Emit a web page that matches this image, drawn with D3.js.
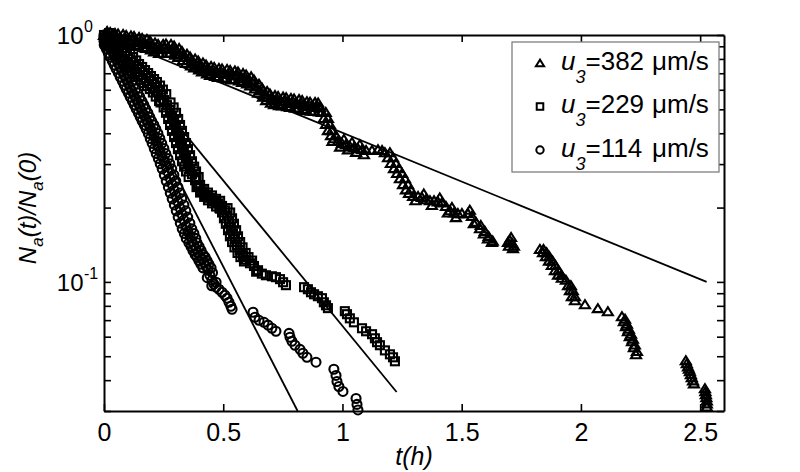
<!DOCTYPE html>
<html><head><meta charset="utf-8">
<script src="https://cdn.jsdelivr.net/npm/d3@7"></script>
<style>body{margin:0;background:#fff}svg{display:block}text{font-family:"Liberation Sans",Arial,sans-serif;fill:#000}</style>
</head><body><svg id="c" width="800" height="472"></svg>
<script>
// ---- data (t in hours, Na(t)/Na(0)) ----
const tri382 = [[0,1],[0.017,0.991],[0.034,0.982],[0.050,0.972],[0.067,0.972],[0.084,0.963],[0.101,0.954],[0.117,0.954],[0.134,0.945],[0.151,0.937],[0.168,0.928],[0.184,0.920],[0.201,0.902],[0.218,0.886],[0.235,0.877],[0.252,0.886],[0.268,0.886],[0.285,0.877],[0.302,0.861],[0.319,0.837],[0.335,0.814],[0.352,0.792],[0.369,0.777],[0.386,0.763],[0.403,0.749],[0.419,0.735],[0.436,0.721],[0.453,0.715],[0.470,0.708],[0.486,0.702],[0.503,0.702],[0.520,0.695],[0.537,0.688],[0.553,0.688],[0.570,0.676],[0.587,0.669],[0.604,0.657],[0.621,0.645],[0.637,0.621],[0.654,0.598],[0.671,0.576],[0.688,0.560],[0.704,0.550],[0.721,0.545],[0.738,0.540],[0.755,0.540],[0.772,0.535],[0.788,0.530],[0.805,0.530],[0.822,0.525],[0.839,0.520],[0.855,0.515],[0.872,0.515],[0.889,0.511],[0.906,0.511],[0.914,0.488],[0.922,0.461],[0.931,0.436],[0.939,0.412],[0.952,0.393],[0.964,0.382],[0.981,0.372],[0.998,0.365],[1.015,0.362],[1.031,0.355],[1.048,0.352],[1.065,0.348],[1.082,0.345],[1.099,0.342],[1.124,0.342],[1.149,0.345],[1.166,0.342],[1.178,0.335],[1.191,0.320],[1.203,0.303],[1.216,0.289],[1.229,0.276],[1.241,0.263],[1.254,0.249],[1.266,0.237],[1.279,0.229],[1.296,0.223],[1.317,0.223],[1.333,0.221],[1.350,0.216],[1.367,0.214],[1.384,0.214],[1.400,0.212],[1.417,0.210],[1.434,0.203],[1.451,0.195],[1.468,0.191],[1.484,0.190],[1.501,0.190],[1.526,0.190],[1.543,0.185],[1.560,0.175],[1.577,0.165],[1.593,0.157],[1.610,0.150],[1.627,0.145],[1.694,0.145],[1.702,0.148],[1.711,0.144],[1.719,0.140],[1.828,0.136],[1.841,0.132],[1.853,0.127],[1.866,0.122],[1.878,0.117],[1.891,0.1115],[1.904,0.107],[1.920,0.104],[1.937,0.102],[1.946,0.097],[1.954,0.0925],[1.962,0.0875],[1.975,0.0843],[2.017,0.0812],[2.071,0.0783],[2.113,0.0761],[2.172,0.0726],[2.180,0.0693],[2.189,0.0662],[2.197,0.0631],[2.205,0.0603],[2.214,0.0575],[2.222,0.0544],[2.231,0.0509],[2.440,0.0482],[2.449,0.0455],[2.457,0.0435],[2.465,0.0411],[2.474,0.0388],[2.520,0.0371],[2.524,0.0351],[2.528,0.0331],[2.528,0.0313]];
const tri382b = [[0.009,0.954],[0.026,1.029],[0.042,0.937],[0.059,1.014],[0.076,0.928],[0.093,1.000],[0.109,0.915],[0.126,0.990],[0.143,0.902],[0.160,0.973],[0.176,0.886],[0.193,0.950],[0.210,0.857],[0.227,0.920],[0.244,0.845],[0.260,0.924],[0.277,0.846],[0.294,0.906],[0.311,0.814],[0.327,0.861],[0.344,0.771],[0.361,0.818],[0.378,0.739],[0.395,0.788],[0.411,0.712],[0.428,0.759],[0.445,0.689],[0.462,0.742],[0.478,0.676],[0.495,0.732],[0.512,0.670],[0.529,0.721],[0.545,0.660],[0.562,0.711],[0.579,0.645],[0.596,0.692],[0.613,0.625],[0.629,0.660],[0.646,0.584],[0.663,0.612],[0.680,0.545],[0.696,0.579],[0.713,0.525],[0.730,0.566],[0.747,0.518],[0.764,0.560],[0.780,0.511],[0.797,0.553],[0.814,0.506],[0.831,0.545],[0.847,0.496],[0.864,0.537],[0.881,0.492],[0.898,0.533],[0.930,0.488],[0.939,0.461],[0.947,0.436],[0.955,0.412],[0.958,0.372],[0.973,0.393],[0.990,0.353],[1.006,0.379],[1.023,0.344],[1.040,0.369],[1.057,0.336],[1.073,0.361],[1.090,0.329],[1.199,0.335],[1.212,0.320],[1.224,0.303],[1.237,0.289],[1.250,0.276],[1.262,0.263],[1.275,0.249],[1.287,0.237],[1.306,0.214],[1.341,0.228],[1.375,0.205],[1.408,0.220],[1.442,0.191],[1.459,0.201],[1.476,0.183],[1.534,0.196],[1.551,0.173],[1.580,0.170],[1.597,0.161],[1.613,0.1535],[1.630,0.147],[1.698,0.140],[1.707,0.152],[1.715,0.137],[1.843,0.136],[1.856,0.132],[1.868,0.127],[1.881,0.122],[1.893,0.117],[1.906,0.1115],[1.919,0.107],[1.958,0.097],[1.966,0.0925],[1.975,0.0875],[2.185,0.0710],[2.193,0.0677],[2.201,0.0646],[2.210,0.0617],[2.218,0.0589],[2.226,0.0558],[2.235,0.0525],[2.444,0.0468],[2.453,0.0445],[2.461,0.0423],[2.470,0.0399],[2.522,0.0361],[2.526,0.0341],[2.528,0.0322]];
const tri382c = [[0.013,1.038],[0.030,0.946],[0.046,1.019],[0.063,0.932],[0.080,1.009],[0.097,0.920],[0.113,0.995],[0.130,0.910],[0.147,0.981],[0.164,0.895],[0.180,0.964],[0.197,0.874],[0.214,0.932],[0.231,0.846],[0.248,0.919],[0.264,0.850],[0.281,0.920],[0.298,0.833],[0.315,0.885],[0.331,0.792],[0.348,0.839],[0.365,0.752],[0.382,0.804],[0.399,0.725],[0.415,0.774],[0.432,0.698],[0.449,0.749],[0.466,0.682],[0.482,0.735],[0.499,0.673],[0.516,0.729],[0.533,0.663],[0.549,0.718],[0.566,0.654],[0.583,0.701],[0.600,0.636],[0.617,0.680],[0.633,0.607],[0.650,0.635],[0.667,0.563],[0.684,0.593],[0.700,0.532],[0.717,0.571],[0.734,0.520],[0.751,0.563],[0.768,0.515],[0.784,0.556],[0.801,0.508],[0.818,0.550],[0.835,0.501],[0.851,0.539],[0.868,0.494],[0.885,0.535],[0.902,0.490]];
const sq229 = [[0,1],[0.013,0.972],[0.025,0.945],[0.038,0.920],[0.050,0.894],[0.063,0.869],[0.075,0.845],[0.088,0.822],[0.101,0.799],[0.113,0.777],[0.126,0.749],[0.138,0.728],[0.151,0.708],[0.164,0.688],[0.176,0.669],[0.189,0.651],[0.201,0.633],[0.214,0.615],[0.226,0.593],[0.239,0.571],[0.252,0.545],[0.264,0.520],[0.277,0.497],[0.285,0.470],[0.294,0.444],[0.302,0.420],[0.310,0.397],[0.319,0.375],[0.327,0.355],[0.335,0.335],[0.344,0.317],[0.352,0.299],[0.361,0.287],[0.369,0.273],[0.382,0.258],[0.394,0.244],[0.411,0.233],[0.428,0.225],[0.444,0.219],[0.461,0.212],[0.478,0.208],[0.495,0.203],[0.507,0.195],[0.516,0.186],[0.524,0.176],[0.532,0.167],[0.541,0.157],[0.549,0.149],[0.558,0.141],[0.570,0.134],[0.583,0.128],[0.595,0.123],[0.612,0.119],[0.629,0.116],[0.646,0.1115],[0.662,0.108],[0.679,0.1064],[0.704,0.1054],[0.721,0.1045],[0.738,0.1026],[0.751,0.0997],[0.763,0.0970],[0.839,0.0952],[0.855,0.0934],[0.868,0.0908],[0.881,0.0891],[0.897,0.0875],[0.914,0.0859],[0.922,0.0827],[0.931,0.0804],[0.939,0.0783],[1.010,0.0761],[1.019,0.0740],[1.031,0.0712],[1.048,0.0686],[1.082,0.0649],[1.099,0.0631],[1.124,0.0614],[1.136,0.0591],[1.145,0.0570],[1.157,0.0554],[1.178,0.0528],[1.199,0.0509],[1.212,0.0495],[1.220,0.0477]];
const sq229b = [[0.021,1.018],[0.004,0.928],[0.046,0.963],[0.029,0.878],[0.071,0.911],[0.054,0.830],[0.096,0.861],[0.080,0.785],[0.122,0.814],[0.105,0.739],[0.147,0.763],[0.130,0.695],[0.172,0.721],[0.155,0.657],[0.197,0.682],[0.180,0.621],[0.222,0.645],[0.205,0.585],[0.247,0.601],[0.231,0.540],[0.279,0.533],[0.250,0.509],[0.302,0.484],[0.269,0.457],[0.319,0.432],[0.285,0.409],[0.336,0.386],[0.302,0.365],[0.352,0.345],[0.319,0.326],[0.369,0.308],[0.336,0.293],[0.386,0.280],[0.355,0.266],[0.388,0.261],[0.403,0.230],[0.420,0.238],[0.436,0.214],[0.453,0.224],[0.470,0.202],[0.487,0.213],[0.484,0.199],[0.529,0.191],[0.503,0.181],[0.545,0.172],[0.520,0.162],[0.562,0.153],[0.537,0.145],[0.581,0.138],[0.560,0.131],[0.606,0.126],[0.587,0.121],[0.621,0.122],[0.638,0.110]];
const sq229c = [[0.000,0.955],[0.034,0.990],[0.016,0.902],[0.059,0.937],[0.041,0.854],[0.084,0.886],[0.066,0.807],[0.110,0.838],[0.092,0.763],[0.135,0.789],[0.117,0.715],[0.160,0.742],[0.142,0.676],[0.185,0.701],[0.167,0.639],[0.210,0.663],[0.192,0.604],[0.235,0.624],[0.217,0.563],[0.261,0.576],[0.237,0.533],[0.292,0.509],[0.260,0.484],[0.311,0.457],[0.277,0.432],[0.327,0.409],[0.294,0.386],[0.344,0.365],[0.310,0.345],[0.361,0.326],[0.327,0.308],[0.378,0.293],[0.344,0.280],[0.397,0.266],[0.388,0.242],[0.403,0.247],[0.420,0.221],[0.436,0.230],[0.453,0.208],[0.470,0.217],[0.487,0.198],[0.518,0.199],[0.495,0.191],[0.537,0.181],[0.511,0.172],[0.554,0.162],[0.528,0.153],[0.571,0.145],[0.547,0.138],[0.594,0.131],[0.572,0.126]];
const circ114 = [[0,1],[0.008,0.963],[0.017,0.928],[0.025,0.894],[0.034,0.861],[0.042,0.830],[0.050,0.799],[0.059,0.770],[0.067,0.742],[0.075,0.715],[0.084,0.688],[0.092,0.663],[0.101,0.639],[0.109,0.615],[0.117,0.593],[0.126,0.571],[0.134,0.550],[0.143,0.530],[0.151,0.511],[0.159,0.492],[0.168,0.474],[0.176,0.456],[0.184,0.440],[0.193,0.424],[0.201,0.408],[0.210,0.390],[0.218,0.372],[0.226,0.355],[0.235,0.339],[0.243,0.323],[0.252,0.308],[0.260,0.294],[0.268,0.279],[0.277,0.263],[0.285,0.249],[0.294,0.235],[0.302,0.223],[0.310,0.211],[0.319,0.199],[0.327,0.188],[0.335,0.178],[0.344,0.168],[0.352,0.160],[0.361,0.153],[0.369,0.146],[0.377,0.141],[0.386,0.136],[0.394,0.131],[0.403,0.127],[0.411,0.124],[0.419,0.120],[0.428,0.116],[0.436,0.1115],[0.444,0.1064],[0.453,0.1016],[0.461,0.0979],[0.470,0.0952],[0.482,0.0934],[0.495,0.0908],[0.507,0.0883],[0.516,0.0859],[0.524,0.0827],[0.532,0.0797],[0.537,0.0775],[0.625,0.0754],[0.633,0.0719],[0.650,0.0699],[0.671,0.0686],[0.688,0.0668],[0.704,0.0649],[0.721,0.0631],[0.776,0.0619],[0.780,0.0597],[0.788,0.0575],[0.801,0.0554],[0.822,0.0533],[0.834,0.0514],[0.851,0.0495],[0.889,0.0473],[0.964,0.0443],[0.973,0.0418],[0.977,0.0395],[0.985,0.0377],[1.002,0.0360],[1.057,0.0337],[1.061,0.0319],[1.065,0.0303]];
const circ114b = [[0.024,0.981],[0.000,0.945],[0.041,0.911],[0.010,0.878],[0.058,0.846],[0.026,0.815],[0.075,0.785],[0.043,0.756],[0.091,0.729],[0.060,0.702],[0.108,0.676],[0.077,0.651],[0.125,0.627],[0.093,0.604],[0.142,0.582],[0.110,0.561],[0.159,0.540],[0.127,0.521],[0.175,0.502],[0.144,0.483],[0.192,0.465],[0.160,0.448],[0.209,0.432],[0.177,0.416],[0.226,0.399],[0.194,0.381],[0.242,0.364],[0.211,0.347],[0.259,0.331],[0.228,0.316],[0.276,0.301],[0.244,0.287],[0.293,0.271],[0.261,0.256],[0.310,0.242],[0.278,0.229],[0.326,0.217],[0.295,0.205],[0.343,0.194],[0.311,0.183],[0.360,0.173],[0.328,0.164],[0.377,0.157],[0.345,0.150],[0.390,0.144],[0.365,0.139],[0.407,0.134],[0.382,0.129],[0.424,0.126],[0.398,0.122],[0.440,0.118],[0.415,0.114],[0.455,0.109],[0.433,0.104],[0.470,0.0997],[0.452,0.0965]];
const circ114c = [[0.000,0.981],[0.033,0.945],[0.001,0.911],[0.050,0.878],[0.018,0.846],[0.066,0.815],[0.035,0.785],[0.083,0.756],[0.051,0.729],[0.100,0.702],[0.068,0.676],[0.117,0.651],[0.085,0.627],[0.133,0.604],[0.102,0.582],[0.150,0.561],[0.119,0.540],[0.167,0.521],[0.135,0.502],[0.184,0.483],[0.152,0.465],[0.200,0.448],[0.169,0.432],[0.217,0.416],[0.186,0.399],[0.234,0.381],[0.202,0.364],[0.251,0.347],[0.219,0.331],[0.268,0.316],[0.236,0.301],[0.284,0.287],[0.253,0.271],[0.301,0.256],[0.270,0.242],[0.318,0.229],[0.286,0.217],[0.335,0.205],[0.303,0.194],[0.351,0.183],[0.320,0.173],[0.368,0.164],[0.337,0.157],[0.385,0.150],[0.356,0.144],[0.399,0.139],[0.373,0.134],[0.416,0.129],[0.390,0.126],[0.432,0.122],[0.406,0.118],[0.449,0.114]];
// exponential fits (start and end points)
const fit382 = [[0,1],[2.527,0.1]];
const fit229 = [[0,1],[1.227,0.0358]];
const fit114 = [[0,1],[0.812,0.03]];
const xTicks = [0,0.5,1,1.5,2,2.5];
const xTickLabels = ["0","0.5","1","1.5","2","2.5"];
const yMajor = [1,0.1];
const yMajorExp = ["0","-1"];
const yMinor = [0.03,0.04,0.05,0.06,0.07,0.08,0.09,0.2,0.3,0.4,0.5,0.6,0.7,0.8,0.9];
const legendVals = ["382","229","114"];
const legendShapes = ["tri","sq","circ"];

// ---- layout ----
const svg = d3.select("#c");
const L=104,R=724,T=35,B=411;
const x = d3.scaleLinear().domain([0,2.6]).range([L,R]);
const y = d3.scaleLog().domain([0.03,1]).range([B,T]);

function shape(g,type,cx,cy,s){
  if(type==="tri"){
    const w=5*s,h=8*s;
    g.append("path").attr("d",`M${cx-w},${cy+h/2}L${cx+w},${cy+h/2}L${cx},${cy-h/2}Z`);
  } else if(type==="sq"){
    const a=4*s;
    g.append("rect").attr("x",cx-a).attr("y",cy-a).attr("width",2*a).attr("height",2*a);
  } else {
    g.append("circle").attr("cx",cx).attr("cy",cy).attr("r",4.5*s);
  }
}

// fit lines
const line = d3.line().x(d=>x(d[0])).y(d=>y(d[1]));
[fit382,fit229,fit114].forEach(f=>{
  svg.append("path").attr("d",line(f)).attr("fill","none").attr("stroke","#000").attr("stroke-width",1.8);
});

// markers
const series=[[tri382.concat(tri382b,tri382c),"tri"],[sq229.concat(sq229b,sq229c),"sq"],[circ114.concat(circ114b,circ114c),"circ"]];
series.forEach(([data,type])=>{
  const g=svg.append("g").attr("fill","none").attr("stroke","#000").attr("stroke-width",2.1);
  data.forEach(d=>shape(g,type,x(d[0]),y(d[1]),1));
});

// axes
const ax=svg.append("g");
const xb=ax.append("g").attr("transform",`translate(0,${B})`).call(d3.axisBottom(x).tickValues(xTicks).tickSize(-7).tickSizeOuter(0).tickPadding(12).tickFormat((d,i)=>xTickLabels[i]));
const xt=ax.append("g").attr("transform",`translate(0,${T})`).call(d3.axisTop(x).tickValues(xTicks).tickSize(-7).tickSizeOuter(0).tickFormat(""));
const yl=ax.append("g").attr("transform",`translate(${L},0)`).call(d3.axisLeft(y).tickValues(yMajor.concat(yMinor)).tickSize(-7).tickSizeOuter(0).tickFormat(""));
const yr=ax.append("g").attr("transform",`translate(${R},0)`).call(d3.axisRight(y).tickValues(yMajor.concat(yMinor)).tickSize(-7).tickSizeOuter(0).tickFormat(""));
ax.selectAll(".domain").attr("stroke","#000").attr("stroke-width",2);
ax.selectAll(".tick line").attr("stroke","#000").attr("stroke-width",1.6);
xb.selectAll(".tick text").attr("font-size",25).attr("font-family","Liberation Sans, Arial").attr("fill","#000");

// y major labels
yMajor.forEach((v,i)=>{
  const t=svg.append("text").attr("font-size",24);
  t.attr("x",83.5).attr("y",y(v)+9).attr("text-anchor","end").text("10");
  svg.append("text").attr("font-size",16).attr("x",84).attr("y",y(v)-3).text(yMajorExp[i]);
});

// axis titles
const xl=svg.append("text").attr("x",(L+R)/2).attr("y",465).attr("text-anchor","middle").attr("font-size",25).attr("font-style","italic").text("t(h)");
const ylab=svg.append("text").attr("transform","translate(36,208) rotate(-90)").attr("text-anchor","middle").attr("font-size",24).attr("font-style","italic");
ylab.append("tspan").text("N");
ylab.append("tspan").attr("font-size",17).attr("dy",7).text("a");
ylab.append("tspan").attr("dy",-7).text("(t)/N");
ylab.append("tspan").attr("font-size",17).attr("dy",7).text("a");
ylab.append("tspan").attr("dy",-7).text("(0)");

// legend
svg.append("rect").attr("x",512).attr("y",42).attr("width",207).attr("height",130).attr("fill","#fff").attr("stroke","#7f7f7f").attr("stroke-width",1.3);
legendVals.forEach((v,i)=>{
  const by=69.5+i*43.5;
  const g=svg.append("g").attr("fill","none").attr("stroke","#000").attr("stroke-width",2);
  shape(g,legendShapes[i],540,by-6.5,0.82);
  const t=svg.append("text").attr("x",561).attr("y",by).attr("font-size",26);
  t.append("tspan").attr("font-style","italic").text("u");
  t.append("tspan").attr("font-style","italic").attr("font-size",18).attr("dy",13).text("3");
  t.append("tspan").attr("dy",-13).text("="+v);
  t.append("tspan").attr("x",652).text("μm/s");
});
</script></body></html>
